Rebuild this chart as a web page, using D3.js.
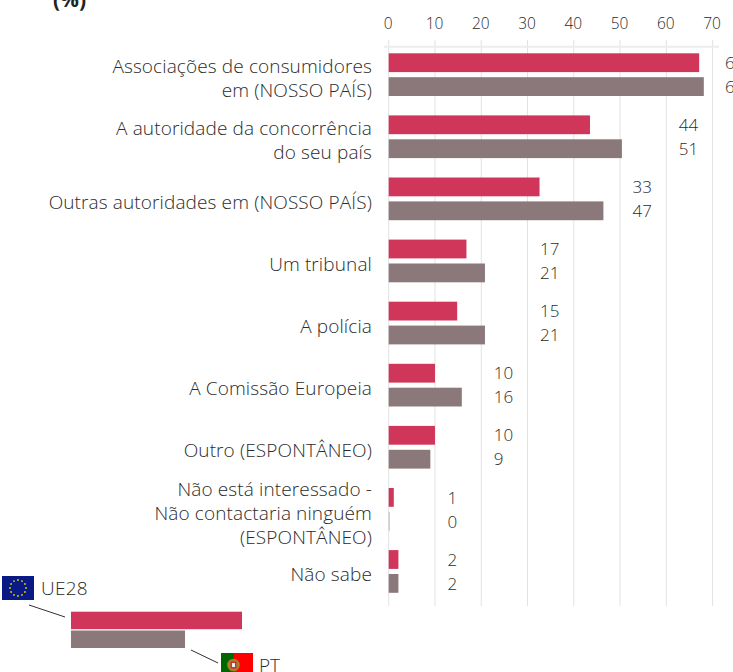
<!DOCTYPE html>
<html><head><meta charset="utf-8">
<script src="https://cdn.jsdelivr.net/npm/d3@7"></script>
<style>html,body{margin:0;padding:0;background:#fff;overflow:hidden}text{font-family:"Open Sans",sans-serif}</style>
</head><body><svg id="c" width="733" height="672"></svg>
<script>
const categories=[["Associações de consumidores","em (NOSSO PAÍS)"],["A autoridade da concorrência","do seu país"],["Outras autoridades em (NOSSO PAÍS)"],["Um tribunal"],["A polícia"],["A Comissão Europeia"],["Outro (ESPONTÂNEO)"],["Não está interessado -","Não contactaria ninguém","(ESPONTÂNEO)"],["Não sabe"]];
const ue28=[67.1,43.5,32.6,16.8,14.8,10,10,1.1,2.1];
const pt=[68.1,50.4,46.4,20.8,20.8,15.8,9,0.2,2.1];
const ue28Labels=[67,44,33,17,15,10,10,1,2];
const ptLabels=[68,51,47,21,21,16,9,0,2];
const ticks=[0,10,20,30,40,50,60,70];
const RED="#d0365a",GREY="#8a787b",TXT="#2b2b2b";
const svg=d3.select("#c");
const x=d3.scaleLinear().domain([0,70]).range([388.7,712.6]);
const y=d3.scaleBand().domain(d3.range(categories.length)).range([47.3,606.2]);
svg.append("g").selectAll("line").data(ticks).join("line").attr("x1",d=>x(d)).attr("x2",d=>x(d)).attr("y1",40).attr("y2",606).attr("stroke","#e2e2e2").attr("stroke-width",1);
svg.append("line").attr("x1",384).attr("x2",719).attr("y1",46.7).attr("y2",46.7).attr("stroke","#ececec").attr("stroke-width",2);
const ax=d3.axisTop(x).tickValues(ticks).tickSize(0).tickPadding(0);
const g=svg.append("g").attr("transform","translate(-1,29)").call(ax);
g.select(".domain").remove();
g.selectAll("text").style("font-size","15.5px").style("font-family","'Open Sans',sans-serif").style("font-weight",300).attr("fill",TXT).attr("dy",0);
const rows=svg.append("g").selectAll("g").data(categories).join("g").attr("transform",(d,i)=>`translate(0,${y(i)})`);
const bw=18.8;
rows.append("rect").attr("x",x(0)).attr("y",6).attr("height",bw).attr("width",(d,i)=>x(ue28[i])-x(0)).attr("fill",RED);
rows.append("rect").attr("x",x(0)).attr("y",29.9).attr("height",bw).attr("width",(d,i)=>Math.max(x(pt[i])-x(0),1)).attr("fill",(d,i)=>ptLabels[i]?GREY:"#bbb");
const lx=i=>x((Math.floor(Math.max(ue28Labels[i],ptLabels[i])/10)+1)*10)+12.5;
const num=17;
rows.append("text").attr("x",(d,i)=>lx(i)).attr("y",21.5).text((d,i)=>ue28Labels[i]).attr("font-size",num).attr("font-weight",300).attr("fill",TXT);
rows.append("text").attr("x",(d,i)=>lx(i)).attr("y",45.5).text((d,i)=>ptLabels[i]).attr("font-size",num).attr("font-weight",300).attr("fill",TXT);
rows.each(function(d){
  const n=d.length,s=d3.select(this);
  const top=n==1?37:n==2?26:14;
  d.forEach((t,k)=>s.append("text").attr("x",372).attr("y",top+k*24).attr("text-anchor","end").text(t).attr("font-size",19).attr("font-weight",300).attr("letter-spacing",.12).attr("fill",TXT));
});
svg.append("text").attr("x",53).attr("y",7).text("(%)").attr("font-size",21).attr("font-weight",700).attr("fill","#222");
const legend=d3.scaleBand().domain(["UE28","PT"]).range([611.7,648]).paddingInner(.07);
svg.append("rect").attr("x",71).attr("y",legend("UE28")).attr("width",171).attr("height",legend.bandwidth()).attr("fill",RED);
svg.append("rect").attr("x",71).attr("y",legend("PT")).attr("width",114).attr("height",legend.bandwidth()).attr("fill",GREY);
svg.append("line").attr("x1",29).attr("y1",605).attr("x2",65).attr("y2",617).attr("stroke","#333");
svg.append("line").attr("x1",191).attr("y1",650).attr("x2",218).attr("y2",663).attr("stroke","#333");
svg.append("text").attr("x",41).attr("y",595).text("UE28").attr("font-size",19).attr("font-weight",300).attr("letter-spacing",.25).attr("fill",TXT);
svg.append("text").attr("x",259).attr("y",672).text("PT").attr("font-size",19).attr("font-weight",300).attr("fill",TXT);
const eu=svg.append("g").attr("transform","translate(2,576)");
eu.append("rect").attr("width",32).attr("height",24).attr("fill","#0a1a85");
eu.selectAll("circle").data(d3.range(12)).join("circle").attr("cx",d=>16+8*Math.sin(d*Math.PI/6)).attr("cy",d=>12-8*Math.cos(d*Math.PI/6)).attr("r",.9).attr("fill","#e8d000");
const p=svg.append("g").attr("transform","translate(221,653)");
p.append("rect").attr("width",32).attr("height",24).attr("fill","#f00");
p.append("rect").attr("width",12.5).attr("height",24).attr("fill","#060");
p.append("circle").attr("cx",12.5).attr("cy",12).attr("r",6.3).attr("fill","#a8802a");
p.append("rect").attr("x",9.5).attr("y",8.5).attr("width",6).attr("height",7).attr("fill","#c33");
p.append("rect").attr("x",11).attr("y",10).attr("width",3).attr("height",4).attr("fill","#eee");
</script></body></html>
